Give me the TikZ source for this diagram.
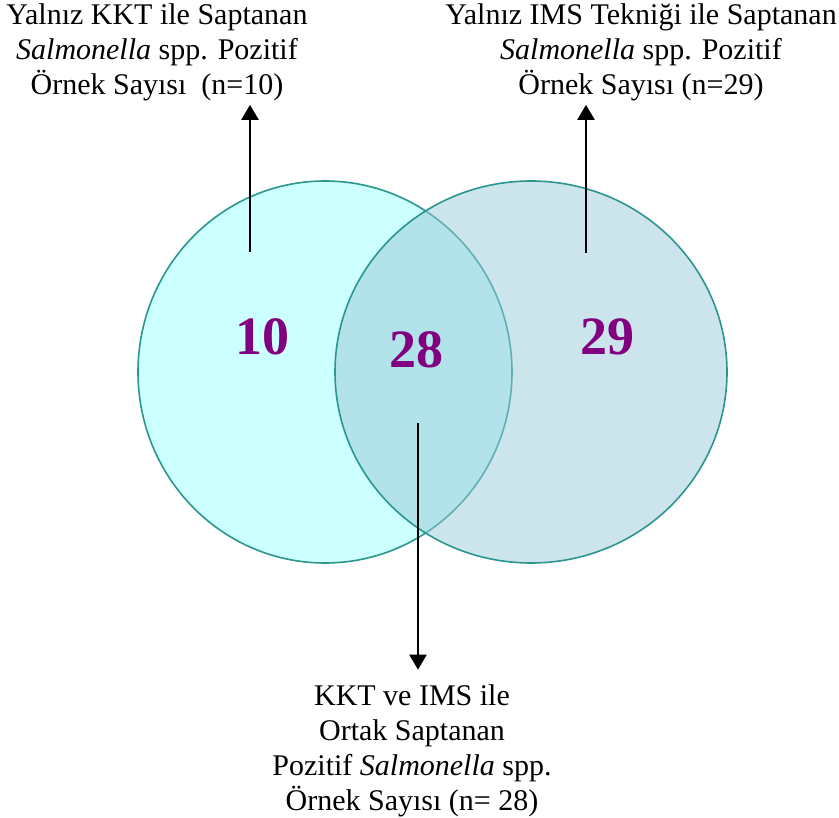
\documentclass[tikz,border=0pt]{standalone}
\usepackage{fontspec}
\setmainfont{Liberation Serif}
\usetikzlibrary{arrows.meta}

\definecolor{kktfill}{RGB}{204,255,255}
\definecolor{imsfill}{RGB}{153,201,217}
\definecolor{rim}{RGB}{42,150,142}
\definecolor{numcol}{RGB}{128,0,128}

\begin{document}
\begin{tikzpicture}[x = 1pt, y = -1pt,
  lbl/.style = {font = \fontsize{30}{35}\selectfont, align = center, inner sep = 4pt},
  num/.style = {font = \fontsize{54}{60}\selectfont\bfseries, text = numcol},
  arr/.style = {line width = 2.4pt, -{Triangle[length = 15pt, width = 17pt]}}]
  \useasboundingbox (0, 0) rectangle (839, 818);

% circles
\draw [rim, line width = 1.6pt, fill = kktfill] (325, 372) ellipse [x radius = 187, y radius = 191];
\draw [rim, line width = 1.6pt, fill = imsfill, fill opacity = .5] (531, 372) ellipse [x radius = 196, y radius = 191];

\node [num] (n10) at (262, 337) {10};
\node [num] (n28) at (416, 350) {28};
\node [num] (n29) at (607, 337) {29};

\node [lbl] (kktLbl) at (157, 52) {Yalnız KKT ile Saptanan\\\textit{Salmonella} spp. Pozitif\\Örnek Sayısı~~(n=10)};
\node [lbl] (imsLbl) at (641, 52) {Yalnız IMS Tekniği ile Saptanan\\\textit{Salmonella} spp. Pozitif\\Örnek Sayısı (n=29)};
\node [lbl] (ortakLbl) at (412, 751) {KKT ve IMS ile\\Ortak Saptanan\\Pozitif \textit{Salmonella} spp.\\Örnek Sayısı (n= 28)};

\coordinate (kktStart) at (250, 252);
\coordinate (imsStart) at (586, 253);
\coordinate (ortakStart) at (418, 423);

\draw [arr] (kktStart) -- (kktStart |- kktLbl.south);
\draw [arr] (imsStart) -- (imsStart |- imsLbl.south);
\draw [arr, shorten >= 11pt] (ortakStart) -- (ortakStart |- ortakLbl.north);
\end{tikzpicture}
\end{document}
